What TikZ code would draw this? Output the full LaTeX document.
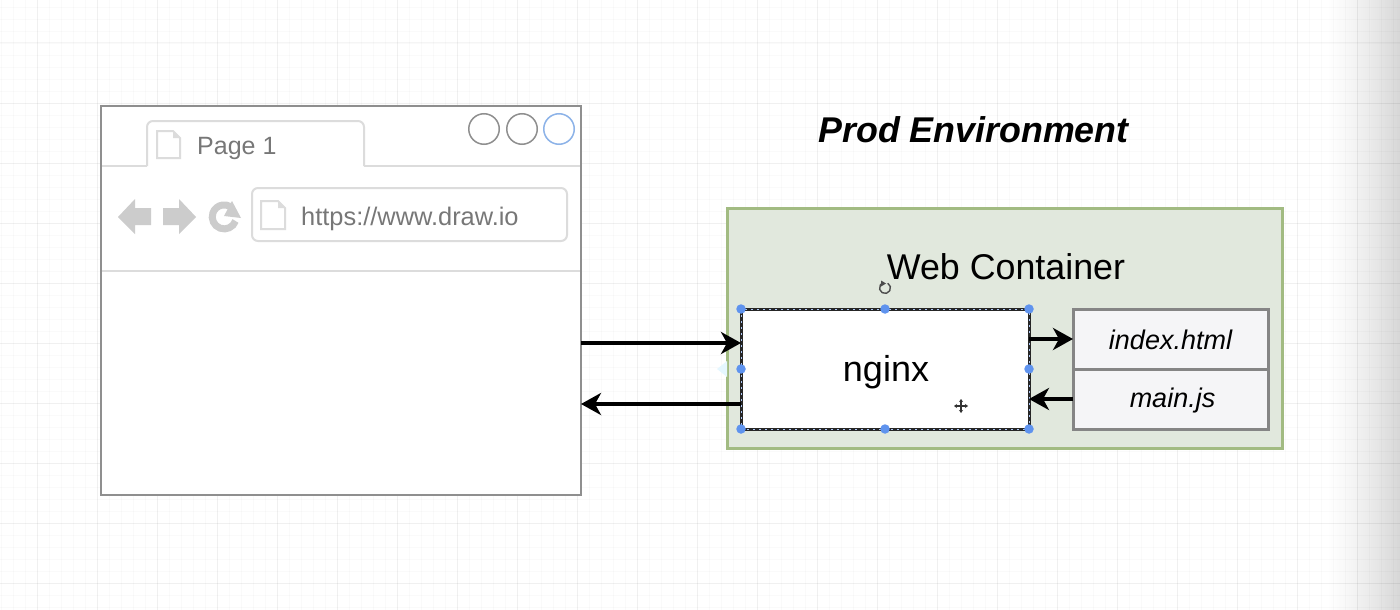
\documentclass[tikz,border=0pt]{standalone}
\usepackage{fontspec}
\setmainfont{Liberation Sans}
\usetikzlibrary{arrows.meta}

\definecolor{chrome}{HTML}{DCDCDC}
\definecolor{navgray}{HTML}{CCCCCC}
\definecolor{labelgray}{HTML}{777777}
\definecolor{framegray}{HTML}{8F8F8F}
\definecolor{handleblue}{HTML}{5F93EE}
\definecolor{ringblue}{HTML}{8DB3E8}
\definecolor{containerfill}{HTML}{E1E8DD}
\definecolor{containerline}{HTML}{A2BB82}
\definecolor{filefill}{HTML}{F5F5F7}
\definecolor{fileline}{HTML}{858585}

\tikzset{
  ring/.style={circle,draw=framegray,line width=1.5pt,minimum size=30.5pt,inner sep=0pt},
  panel/.style={rectangle,inner sep=0pt,outer sep=0pt},
  filebox/.style={panel,draw=fileline,fill=filefill,line width=3pt,minimum width=195pt,minimum height=60pt},
  filetext/.style={inner sep=0pt,font=\fontsize{27}{30}\selectfont\itshape},
  handle/.style={circle,fill=handleblue,minimum size=9.5pt,inner sep=0pt},
  flow/.style={line width=3.5pt,-{Stealth[length=20pt,width=22pt,inset=6pt]}}
}

\begin{document}
\begin{tikzpicture}[x=1pt,y=-1pt]
\useasboundingbox (0,0) rectangle (1400,610);

% Shadow on the right side
\foreach \x in {1325,1327,...,1399} {
\pgfmathsetmacro{\shadepct}{16*((\x-1325)/75)^1.3}
\fill [black!\shadepct] (\x,0) rectangle (\x+2.3,610);
}

% Background grid
\foreach \x in {1,13,...,1400} {
\draw [black,opacity=0.018,line width=0.8pt] (\x,0) -- (\x,610);
}
\foreach \y in {7,19,...,610} {
\draw [black,opacity=0.018,line width=0.8pt] (0,\y) -- (1400,\y);
}
\foreach \x in {37,97,...,1400} {
\draw [black,opacity=0.04,line width=1pt] (\x,0) -- (\x,610);
}
\foreach \y in {43,103,...,610} {
\draw [black,opacity=0.04,line width=1pt] (0,\y) -- (1400,\y);
}

% Browser window
\node (browser) [panel,draw=framegray,fill=white,line width=2pt,minimum width=480pt,minimum height=389pt] at (341,300.5) {};

% Tab and toolbar lines
\draw [chrome,line width=2pt] (102,166) -- (147,166);
\draw [chrome,line width=2pt,rounded corners=6pt] (147,166) -- (147,121) -- (364,121) -- (364,166);
\draw [chrome,line width=2pt] (364,166) -- (580,166);
\draw [chrome,line width=2pt] (102,271) -- (580,271);
\node (pagelabel) [anchor=west,inner sep=0pt,text=labelgray,font=\fontsize{25}{30}\selectfont] at (197,148) {Page 1};

% Window buttons
\node (btnone) [ring] at (484,129) {};
\node (btntwo) [ring] at (522,129) {};
\node (btnthree) [ring,draw=ringblue] at (559,129) {};

% Back, forward, reload
\fill [navgray] (118,217) -- (135,199) -- (135,208) -- (151,208) -- (151,225) -- (135,225) -- (135,234) -- cycle;
\fill [navgray] (196,217) -- (179,199) -- (179,208) -- (163,208) -- (163,225) -- (179,225) -- (179,234) -- cycle;
\draw [navgray,line width=7pt] (235.5,221) arc [start angle=20,end angle=300,radius=12];
\fill [navgray] (232,201) -- (241,218) -- (224,216) -- cycle;

% Address bar
\node (urlbar) [panel,draw=chrome,fill=white,line width=2pt,rounded corners=6pt,minimum width=315pt,minimum height=53pt] at (409.5,214.5) {};
\node (urllabel) [anchor=west,inner sep=0pt,text=labelgray,font=\fontsize{25.4}{30}\selectfont] at (301,219) {https://www.draw.io};

% Page icons: tab and address bar
\foreach \px/\py/\pw/\ph in {157/131/23/27, 261/201/24/28} {
\draw [chrome,line width=2pt] (\px,\py) -- ({\px+\pw-7},\py) -- ({\px+\pw},{\py+7}) -- ({\px+\pw},{\py+\ph}) -- (\px,{\py+\ph}) -- cycle;
\fill [chrome] ({\px+\pw-7},\py) -- ({\px+\pw},{\py+7}) -- ({\px+\pw-7},{\py+7}) -- cycle;
}

% Title
\node (title) [inner sep=0pt,font=\fontsize{35.8}{40}\selectfont\bfseries\itshape] at (973.5,130) {Prod Environment};

% Web container
\node (container) [panel,draw=containerline,fill=containerfill,line width=3pt,minimum width=555pt,minimum height=240pt] at (1004.5,328) {};
\node (containerlabel) [inner sep=0pt,font=\fontsize{35.8}{42}\selectfont] at (1006,266.5) {Web Container};

% Hover hint left of the selected box
\fill [blue!30!cyan!10] (717,369) -- (727,361) -- (727,377) -- cycle;

% The selected box
\node (nginx) [panel,draw=black!85,fill=white,line width=3pt,minimum width=288pt,minimum height=120pt] at (885,369) {};
\node (nginxlabel) [inner sep=0pt,font=\fontsize{36}{40}\selectfont] at (886,372) {nginx};
\draw [white!50!handleblue,line width=1pt,dash pattern=on 2pt off 4pt] (nginx.north west) rectangle (nginx.south east);

% The two files
\node (indexfile) [filebox] at (1170.5,339) {};
\node (mainfile) [filebox] at (1170.5,399) {};
\node (indexlabel) [filetext] at (1170.5,340) {index.html};
\node (mainlabel) [filetext] at (1172.5,401) {main.js};

% Connectors
\coordinate (nginxin) at ([yshift=26pt]nginx.west);
\coordinate (nginxout) at ([yshift=-35pt]nginx.west);
\draw [flow] (browser.east |- nginxin) -- (nginxin);
\draw [flow] (nginxout) -- (browser.east |- nginxout);
\draw [flow] (nginx.east |- indexfile.west) -- (indexfile.west);
\draw [flow] (mainfile.west) -- (nginx.east |- mainfile.west);

% Selection handles
\foreach \a in {north west,north,north east,west,east,south west,south,south east} {
\node (handle \a) [handle] at (nginx.\a) {};
}

% Rotate icon
\draw [black!70,line width=1.4pt] (887.75,283.2) arc [start angle=-60,end angle=240,radius=5.5];
\fill [black!70] (881,280.5) -- (886,283.5) -- (881,286.5) -- cycle;

% Move cursor
\draw [black!80,line width=1.2pt,{Stealth[length=3pt,width=4pt]}-{Stealth[length=3pt,width=4pt]}] (954,406) -- (968,406);
\draw [black!80,line width=1.2pt,{Stealth[length=3pt,width=4pt]}-{Stealth[length=3pt,width=4pt]}] (961,399) -- (961,413);
\end{tikzpicture}
\end{document}
